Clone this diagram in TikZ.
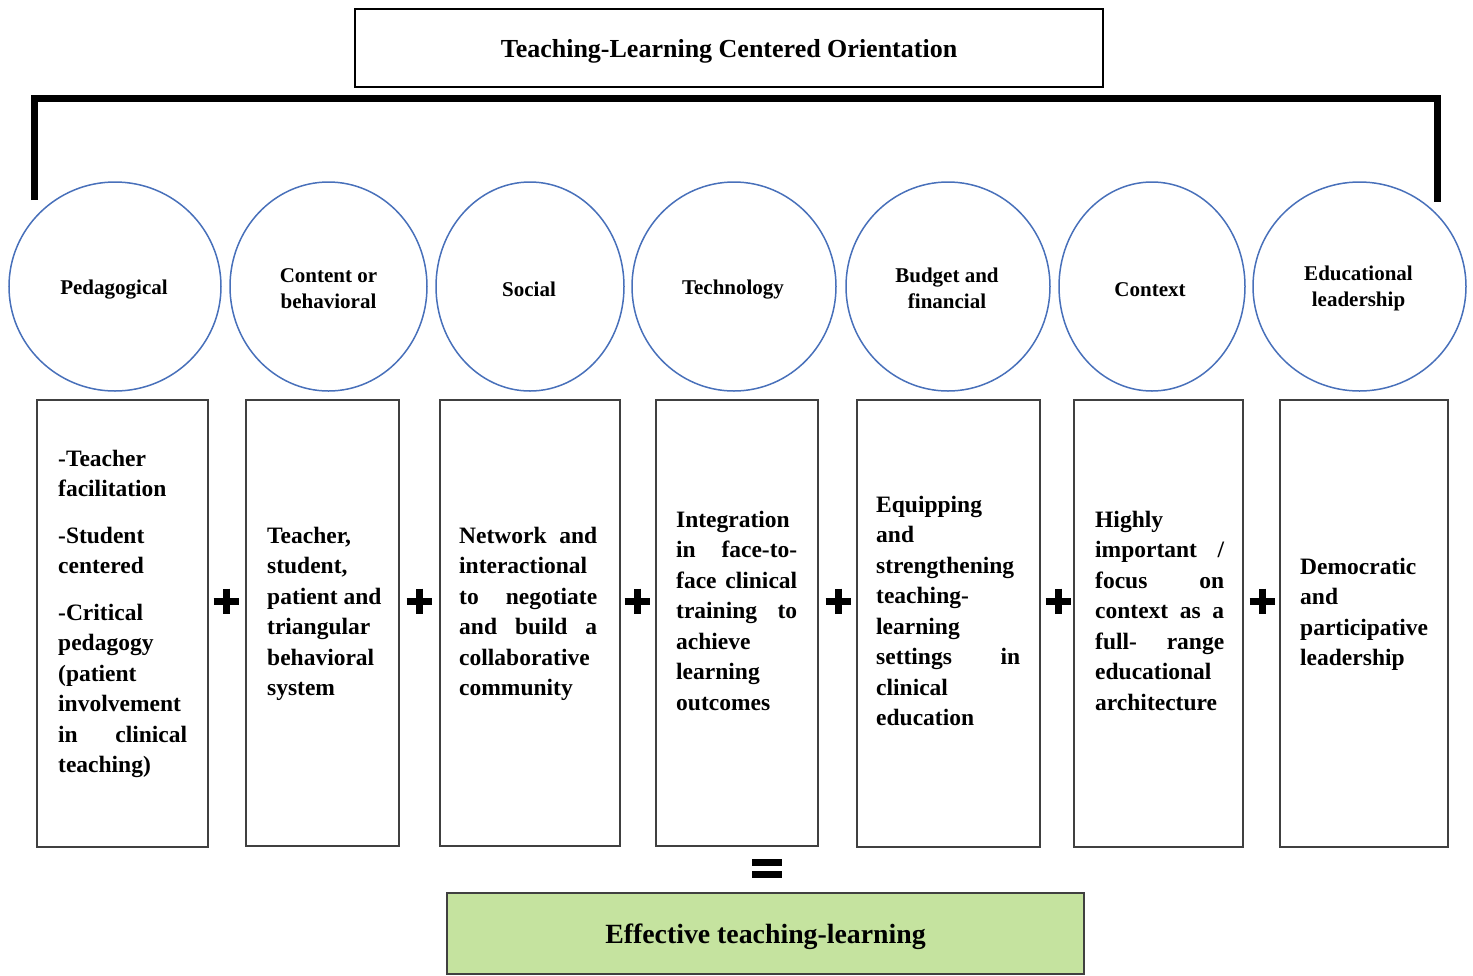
\documentclass[tikz,border=0pt]{standalone}
\usepackage{fontspec}
\setmainfont{Liberation Serif}
\usetikzlibrary{shapes.geometric}
\definecolor{circblue}{RGB}{72,112,186}
\definecolor{boxgray}{RGB}{64,64,64}
\definecolor{effgreen}{RGB}{197,227,159}
\tikzset{
  circnode/.style={ellipse, draw=circblue, line width=1.5pt, inner sep=0pt},
  circlabel/.style={inner sep=0pt, align=center, font=\fontsize{21}{26}\selectfont\bfseries},
  colbox/.style={draw=boxgray, line width=1.6pt, inner sep=0pt},
  coltext/.style={anchor=base west, inner sep=0pt},
  opbar/.style={line width=7pt, black},
  bracketline/.style={line width=7pt, black, line join=miter},
}
\newcommand{\colpar}[2]{\parbox[t]{#1pt}{\fontsize{23.5}{30.5}\selectfont\bfseries #2}}
\begin{document}
\begin{tikzpicture}[x=1pt,y=-1pt]
\useasboundingbox (0,0) rectangle (1473,975);
% title
\node[draw=black, line width=1.6pt, minimum width=748pt, minimum height=78pt, inner sep=0pt] (title) at (729,48) {};
\node[inner sep=0pt, font=\fontsize{26}{30}\selectfont\bfseries] (titletext) at ([yshift=-3pt]title.center) {Teaching-Learning Centered Orientation};
% bracket
\coordinate (bl) at (34.5,200);
\coordinate (br) at (1437,202);
\draw[bracketline] (bl) -- ++(0,-101.5) -| (br);
% circles
\node[circnode, minimum width=212pt, minimum height=209pt] (c1) at (115,286.5) {};
\node[circnode, minimum width=197pt, minimum height=209pt] (c2) at (328.5,286.5) {};
\node[circnode, minimum width=188pt, minimum height=209pt] (c3) at (530,286.5) {};
\node[circnode, minimum width=204pt, minimum height=209pt] (c4) at (734,286.5) {};
\node[circnode, minimum width=204pt, minimum height=209pt] (c5) at (948,286.5) {};
\node[circnode, minimum width=186pt, minimum height=209pt] (c6) at (1152,286.5) {};
\node[circnode, minimum width=213pt, minimum height=209pt] (c7) at (1359.5,286.5) {};
\node[circlabel] (l1) at ([xshift=-1pt,yshift=-3pt]c1.center) {Pedagogical};
\node[circlabel] (l2) at ([yshift=-2pt]c2.center) {Content or\\behavioral};
\node[circlabel] (l3) at ([xshift=-1pt,yshift=-3pt]c3.center) {Social};
\node[circlabel] (l4) at ([xshift=-1pt,yshift=-3pt]c4.center) {Technology};
\node[circlabel] (l5) at ([xshift=-1pt,yshift=-2pt]c5.center) {Budget and\\financial};
\node[circlabel] (l6) at ([xshift=-2pt,yshift=-3pt]c6.center) {Context};
\node[circlabel] (l7) at ([xshift=-1pt,yshift=-2pt]c7.center) {Educational\\leadership};
% column boxes
\node[colbox, minimum width=171pt, minimum height=447pt] (b1) at (122.5,623.5) {};
\node[colbox, minimum width=153pt, minimum height=446pt] (b2) at (322.5,623) {};
\node[colbox, minimum width=180pt, minimum height=446pt] (b3) at (530,623) {};
\node[colbox, minimum width=162pt, minimum height=446pt] (b4) at (737,623) {};
\node[colbox, minimum width=183pt, minimum height=447pt] (b5) at (948.5,623.5) {};
\node[colbox, minimum width=169pt, minimum height=447pt] (b6) at (1158.5,623.5) {};
\node[colbox, minimum width=168pt, minimum height=447pt] (b7) at (1364,623.5) {};
% column texts
\node[coltext] (t1) at (58,466) {\colpar{129}{-Teacher\\facilitation\\[16pt]-Student\\centered\\[16pt]-Critical\\pedagogy\\(patient\\involvement\\in\hfill clinical\\teaching)}};
\node[coltext] (t2) at (267,543) {\colpar{125}{Teacher,\\student,\\patient and\\triangular\\behavioral\\system}};
\node[coltext] (t3) at (459,543) {\colpar{138}{Network\hfill and\\interactional\\to\hfill negotiate\\and\hfill build\hfill a\\collaborative\\community}};
\node[coltext] (t4) at (676,527) {\colpar{121}{Integration\\in\hfill face-to-\\face\hfill clinical\\training\hfill to\\achieve\\learning\\outcomes}};
\node[coltext] (t5) at (876,512) {\colpar{144}{Equipping\\and\\strengthening\\teaching-\\learning\\settings\hfill in\\clinical\\education}};
\node[coltext] (t6) at (1095,527) {\colpar{129}{Highly\\important\hfill /\\focus\hfill on\\context\hfill as\hfill a\\full-\hfill range\\educational\\architecture}};
\node[coltext] (t7) at (1300,574) {\colpar{128}{Democratic\\and\\participative\\leadership}};
% plus signs
\foreach \px in {226,419,637,838,1058,1262}
  \draw[opbar] (\px-12.5,601) -- (\px+12.5,601) (\px,588.5) -- (\px,613.5);
% equals sign
\draw[opbar] (752,862.5) -- (782,862.5) (752,874.5) -- (782,874.5);
% result box
\node[draw=boxgray, line width=1.6pt, fill=effgreen, minimum width=637pt, minimum height=81pt, inner sep=0pt] (eff) at (765.5,933.5) {};
\node[inner sep=0pt, font=\fontsize{27.8}{32}\selectfont\bfseries] (efftext) at ([yshift=-3pt]eff.center) {Effective teaching-learning};
\end{tikzpicture}
\end{document}
